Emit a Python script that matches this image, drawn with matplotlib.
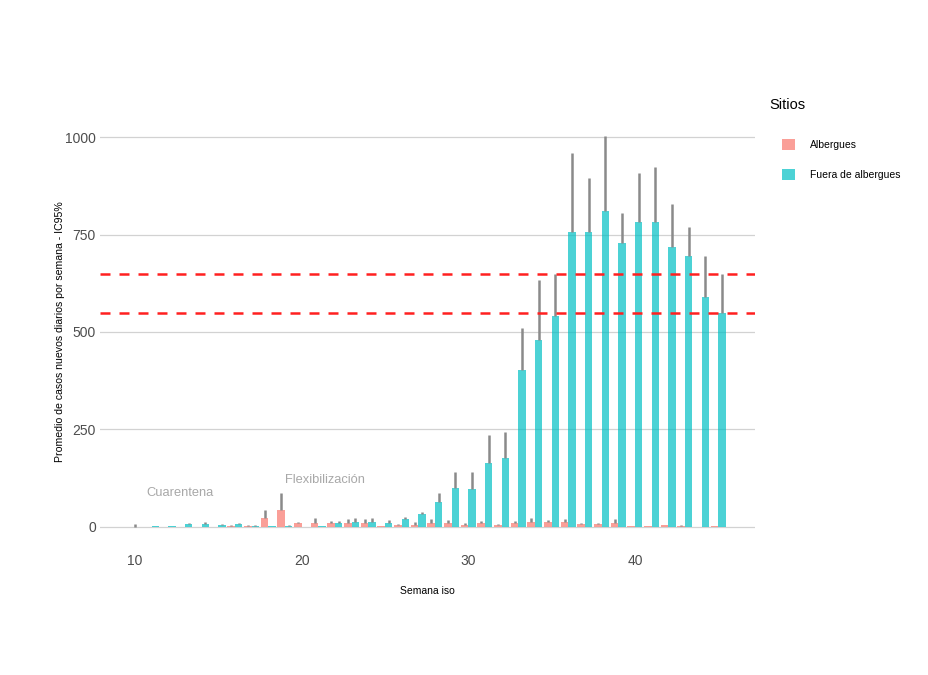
import numpy as np
import matplotlib
matplotlib.use("Agg")
import matplotlib.pyplot as plt
from matplotlib.patches import Patch

plt.rcParams["font.family"] = ["Liberation Sans", "DejaVu Sans"]

semanas = list(range(10, 46))

# Albergues: promedio y límite superior IC95% (nan = sin dato)
albergues = [np.nan, 0, 0, 0, 0, 0, 2, 2, 21, 42, 9, 9, 8, 9, 9, 1, 4, 5,
             10, 9, 5, 8, 4, 8, 12, 11, 12, 6, 6, 10, 1, 1, 4, 2, 0, 1]
albergues_sup = [np.nan, 0, 0, 0, 0, 0, 3, 3, 42, 85, 12, 21, 15, 20, 20, 2, 6, 12,
                 20, 17, 9, 14, 7, 14, 23, 18, 19, 10, 10, 20, 2, 2, 5, 3, 0, 2]

# Fuera de albergues
fuera = [0, 1, 1.5, 6, 6, 4, 6, 2, 1, 2, 0, 1, 8, 11, 11, 10, 20, 32,
         62, 100, 97, 164, 175, 402, 480, 541, 756, 756, 810, 728, 782, 783, 718, 695, 590, 549]
fuera_sup = [6, 1.5, 2, 9, 11, 7, 10, 3, 2, 3, 0, 1, 15, 21, 23, 17, 25, 37,
             85, 140, 140, 236, 243, 511, 633, 649, 959, 895, 1003, 805, 908, 923, 828, 769, 695, 649]

grupos = ["Albergues", "Fuera de albergues"]
colores = ["#F8766D", "#00BFC4"]
umbrales = [550, 650]

fig = plt.figure(figsize=(9.29, 6.75), dpi=100)
ax = fig.add_axes([0.1076, 0.19, 0.705, 0.637])

valores = [np.array(albergues, float), np.array(fuera, float)]
superiores = [np.array(albergues_sup, float), np.array(fuera_sup, float)]
sem = np.array(semanas, float)

# dodge tipo ggplot: ancho total 0.9 repartido entre grupos presentes
presentes = np.sum([~np.isnan(v) for v in valores], axis=0)
total = 0.9
for i, (v, s) in enumerate(zip(valores, superiores)):
    ok = ~np.isnan(v)
    ancho = total / presentes
    idx = np.cumsum([~np.isnan(valores[j]) for j in range(i + 1)], axis=0)[-1] - 1
    x = sem - total / 2 + ancho * idx + ancho / 2
    ax.bar(x[ok], v[ok], width=ancho[ok], color=colores[i], alpha=0.7,
           linewidth=0, zorder=3)
    ax.vlines(x[ok], v[ok], s[ok], color="#8a8a8a", linewidth=1.8, zorder=4)

for u in umbrales:
    ax.axhline(u, color="#ff2020", linestyle=(0, (4, 3.6)), linewidth=1.8, zorder=5)

ax.text(12.7, 85, "Cuarentena", color="#a8a8a8", fontsize=9.3, ha="center", va="center")
ax.text(21.4, 120, "Flexibilización", color="#a8a8a8", fontsize=9.3, ha="center", va="center")

ax.set_xlim(7.9, 47.2)
ax.set_ylim(-52, 1053)
ax.set_xticks([10, 20, 30, 40])
ax.set_yticks([0, 250, 500, 750, 1000])
ax.grid(axis="y", color="#d2d2d2", linewidth=0.9, zorder=0)
ax.set_axisbelow(True)
for sp in ax.spines.values():
    sp.set_visible(False)
ax.tick_params(axis="both", length=0, labelsize=10, labelcolor="#4d4d4d")
ax.tick_params(axis="x", pad=5)
ax.tick_params(axis="y", pad=3)

ax.set_xlabel("Semana iso", fontsize=7.5, labelpad=13)
ax.set_ylabel("Promedio de casos nuevos diarios por semana - IC95%", fontsize=7.6, labelpad=0)

fig.text(0.828, 0.844, "Sitios", fontsize=10.5, ha="left", va="center")
handles = [Patch(facecolor=c, alpha=0.7, edgecolor="none") for c in colores]
fig.legend(handles, grupos, loc="upper left", bbox_to_anchor=(0.8415, 0.794),
           frameon=False, fontsize=7.5, handlelength=1.25, handleheight=1.25,
           handletextpad=1.45, labelspacing=1.85, borderaxespad=0, borderpad=0)

fig.savefig("out.png", dpi=100)
